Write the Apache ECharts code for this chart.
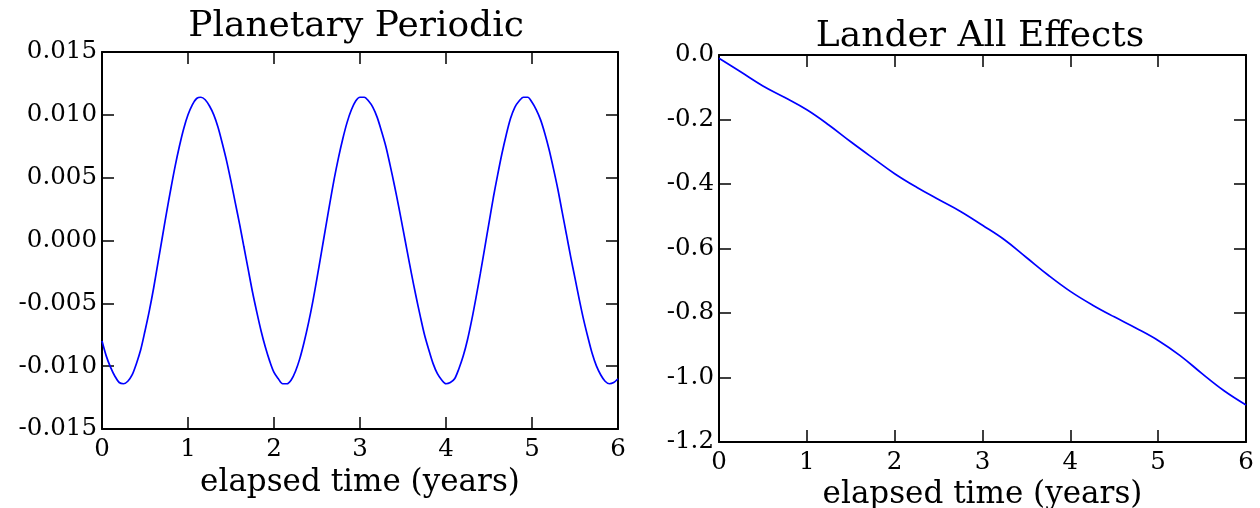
<!DOCTYPE html>
<html>
<head>
<meta charset="utf-8">
<script src="https://cdn.jsdelivr.net/npm/echarts@6/dist/echarts.min.js"></script>
<style>
html,body{margin:0;padding:0;background:#fff;}
#chart{width:1260px;height:508px;}
</style>
</head>
<body>
<div id="chart"></div>
<script>
// ---- Data ----
const panelTitles = ['Planetary Periodic', 'Lander All Effects'];
const xAxisTitle = 'elapsed time (years)';

const planetaryX = [0.00,0.05,0.10,0.15,0.20,0.25,0.30,0.35,0.40,0.45,
  0.50,0.55,0.60,0.65,0.70,0.75,0.80,0.85,0.90,0.95,
  1.00,1.05,1.10,1.15,1.20,1.25,1.30,1.35,1.40,1.45,
  1.50,1.55,1.60,1.65,1.70,1.75,1.80,1.85,1.90,1.95,
  2.00,2.05,2.10,2.15,2.20,2.25,2.30,2.35,2.40,2.45,
  2.50,2.55,2.60,2.65,2.70,2.75,2.80,2.85,2.90,2.95,
  3.00,3.05,3.10,3.15,3.20,3.25,3.30,3.35,3.40,3.45,
  3.50,3.55,3.60,3.65,3.70,3.75,3.80,3.85,3.90,3.95,
  4.00,4.05,4.10,4.15,4.20,4.25,4.30,4.35,4.40,4.45,
  4.50,4.55,4.60,4.65,4.70,4.75,4.80,4.85,4.90,4.95,
  5.00,5.05,5.10,5.15,5.20,5.25,5.30,5.35,5.40,5.45,
  5.50,5.55,5.60,5.65,5.70,5.75,5.80,5.85,5.90,5.95,6.00];
const planetaryY = [-0.0080,-0.0092,-0.0101,-0.0108,-0.0113,-0.0114,-0.0112,-0.0107,-0.0098,-0.0087,
  -0.0072,-0.0056,-0.0038,-0.0018,0.0002,0.0022,0.0041,0.0059,0.0075,0.0089,
  0.0100,0.0108,0.0113,0.0114,0.0112,0.0107,0.0100,0.0090,0.0077,0.0063,
  0.0047,0.0030,0.0013,-0.0005,-0.0023,-0.0041,-0.0057,-0.0072,-0.0085,-0.0096,
  -0.0105,-0.0110,-0.0114,-0.0114,-0.0111,-0.0104,-0.0094,-0.0081,-0.0066,-0.0049,
  -0.0030,-0.0010,0.0010,0.0030,0.0049,0.0066,0.0081,0.0094,0.0104,0.0111,
  0.0114,0.0114,0.0111,0.0106,0.0098,0.0087,0.0075,0.0060,0.0044,0.0027,
  0.0009,-0.0009,-0.0027,-0.0044,-0.0060,-0.0075,-0.0087,-0.0098,-0.0106,-0.0111,
  -0.0114,-0.0113,-0.0110,-0.0102,-0.0092,-0.0079,-0.0063,-0.0045,-0.0026,-0.0006,
  0.0014,0.0034,0.0052,0.0069,0.0084,0.0097,0.0106,0.0111,0.0114,0.0114,
  0.0110,0.0104,0.0096,0.0085,0.0072,0.0057,0.0041,0.0023,0.0005,-0.0013,
  -0.0030,-0.0047,-0.0063,-0.0077,-0.0090,-0.0100,-0.0107,-0.0112,-0.0114,-0.0113,-0.0110];

const landerX = [0,0.25,0.5,0.75,1.0,1.25,1.5,1.75,2.0,2.25,2.5,2.75,3.0,
  3.25,3.5,3.75,4.0,4.25,4.5,4.75,5.0,5.25,5.5,5.75,6.0];
const landerY = [-0.010,-0.053,-0.096,-0.132,-0.170,-0.217,-0.269,-0.319,-0.368,-0.410,-0.448,-0.485,-0.528,
  -0.573,-0.628,-0.683,-0.733,-0.775,-0.812,-0.847,-0.885,-0.932,-0.988,-1.041,-1.085];

const xTicks = {min: 0, max: 6, interval: 1};
const planetaryTicks = {min: -0.015, max: 0.015, interval: 0.005, digits: 3};
const landerTicks = {min: -1.2, max: 0.0, interval: 0.2, digits: 1};

// ---- Chart ----
const FONT = 'DejaVu Serif';
const chart = echarts.init(document.getElementById('chart'), null, {renderer: 'canvas'});

const grids = [
  {left: 102, top: 52, width: 516, height: 377, containLabel: false, outerBoundsMode: 'none'},
  {left: 719, top: 55, width: 527, height: 387, containLabel: false, outerBoundsMode: 'none'}
];

function fmt(digits) {
  return function (v) {
    if (Math.abs(v) < 1e-9) v = 0;
    return v.toFixed(digits);
  };
}

const lineStyle = {color: '#000', width: 2};
const tickStyle = {show: true, inside: true, length: 12, lineStyle: {color: '#000', width: 1.5}};

function xAxes(g) {
  return [
    {type: 'value', gridIndex: g, position: 'bottom', min: xTicks.min, max: xTicks.max, interval: xTicks.interval,
     axisLine: {show: true, onZero: false, lineStyle}, axisTick: tickStyle, splitLine: {show: false},
     axisLabel: {show: true, fontFamily: FONT, fontSize: 24.5, color: '#000', margin: 8},
     name: xAxisTitle, nameLocation: 'middle', nameGap: g === 0 ? 38 : 35,
     nameTextStyle: {fontFamily: FONT, fontSize: 31, color: '#000'}},
    {type: 'value', gridIndex: g, position: 'top', min: xTicks.min, max: xTicks.max, interval: xTicks.interval,
     axisLine: {show: true, onZero: false, lineStyle}, axisTick: tickStyle, splitLine: {show: false},
     axisLabel: {show: false}}
  ];
}
function yAxes(g, t) {
  return [
    {type: 'value', gridIndex: g, position: 'left', min: t.min, max: t.max, interval: t.interval,
     axisLine: {show: true, onZero: false, lineStyle}, axisTick: tickStyle, splitLine: {show: false},
     axisLabel: {show: true, fontFamily: FONT, fontSize: 24.5, color: '#000', margin: 5, formatter: fmt(t.digits)}},
    {type: 'value', gridIndex: g, position: 'right', min: t.min, max: t.max, interval: t.interval,
     axisLine: {show: true, onZero: false, lineStyle}, axisTick: tickStyle, splitLine: {show: false},
     axisLabel: {show: false}}
  ];
}

const option = {
  animation: false,
  backgroundColor: '#fff',
  grid: grids,
  xAxis: [].concat(xAxes(0), xAxes(1)),
  yAxis: [].concat(yAxes(0, planetaryTicks), yAxes(1, landerTicks)),
  graphic: [
    {type: 'text', x: 356, y: 27, style: {text: panelTitles[0], fontFamily: FONT, fontSize: 36, fill: '#000', align: 'center', verticalAlign: 'middle'}},
    {type: 'text', x: 980, y: 37, style: {text: panelTitles[1], fontFamily: FONT, fontSize: 36, fill: '#000', align: 'center', verticalAlign: 'middle'}}
  ],
  series: [
    {type: 'line', xAxisIndex: 0, yAxisIndex: 0, data: planetaryX.map((x, i) => [x, planetaryY[i]]),
     smooth: 0.3, showSymbol: false, lineStyle: {color: '#0000ff', width: 1.7}, clip: true},
    {type: 'line', xAxisIndex: 2, yAxisIndex: 2, data: landerX.map((x, i) => [x, landerY[i]]),
     smooth: 0.4, showSymbol: false, lineStyle: {color: '#0000ff', width: 1.7}, clip: true}
  ]
};
chart.setOption(option);
</script>
</body>
</html>
